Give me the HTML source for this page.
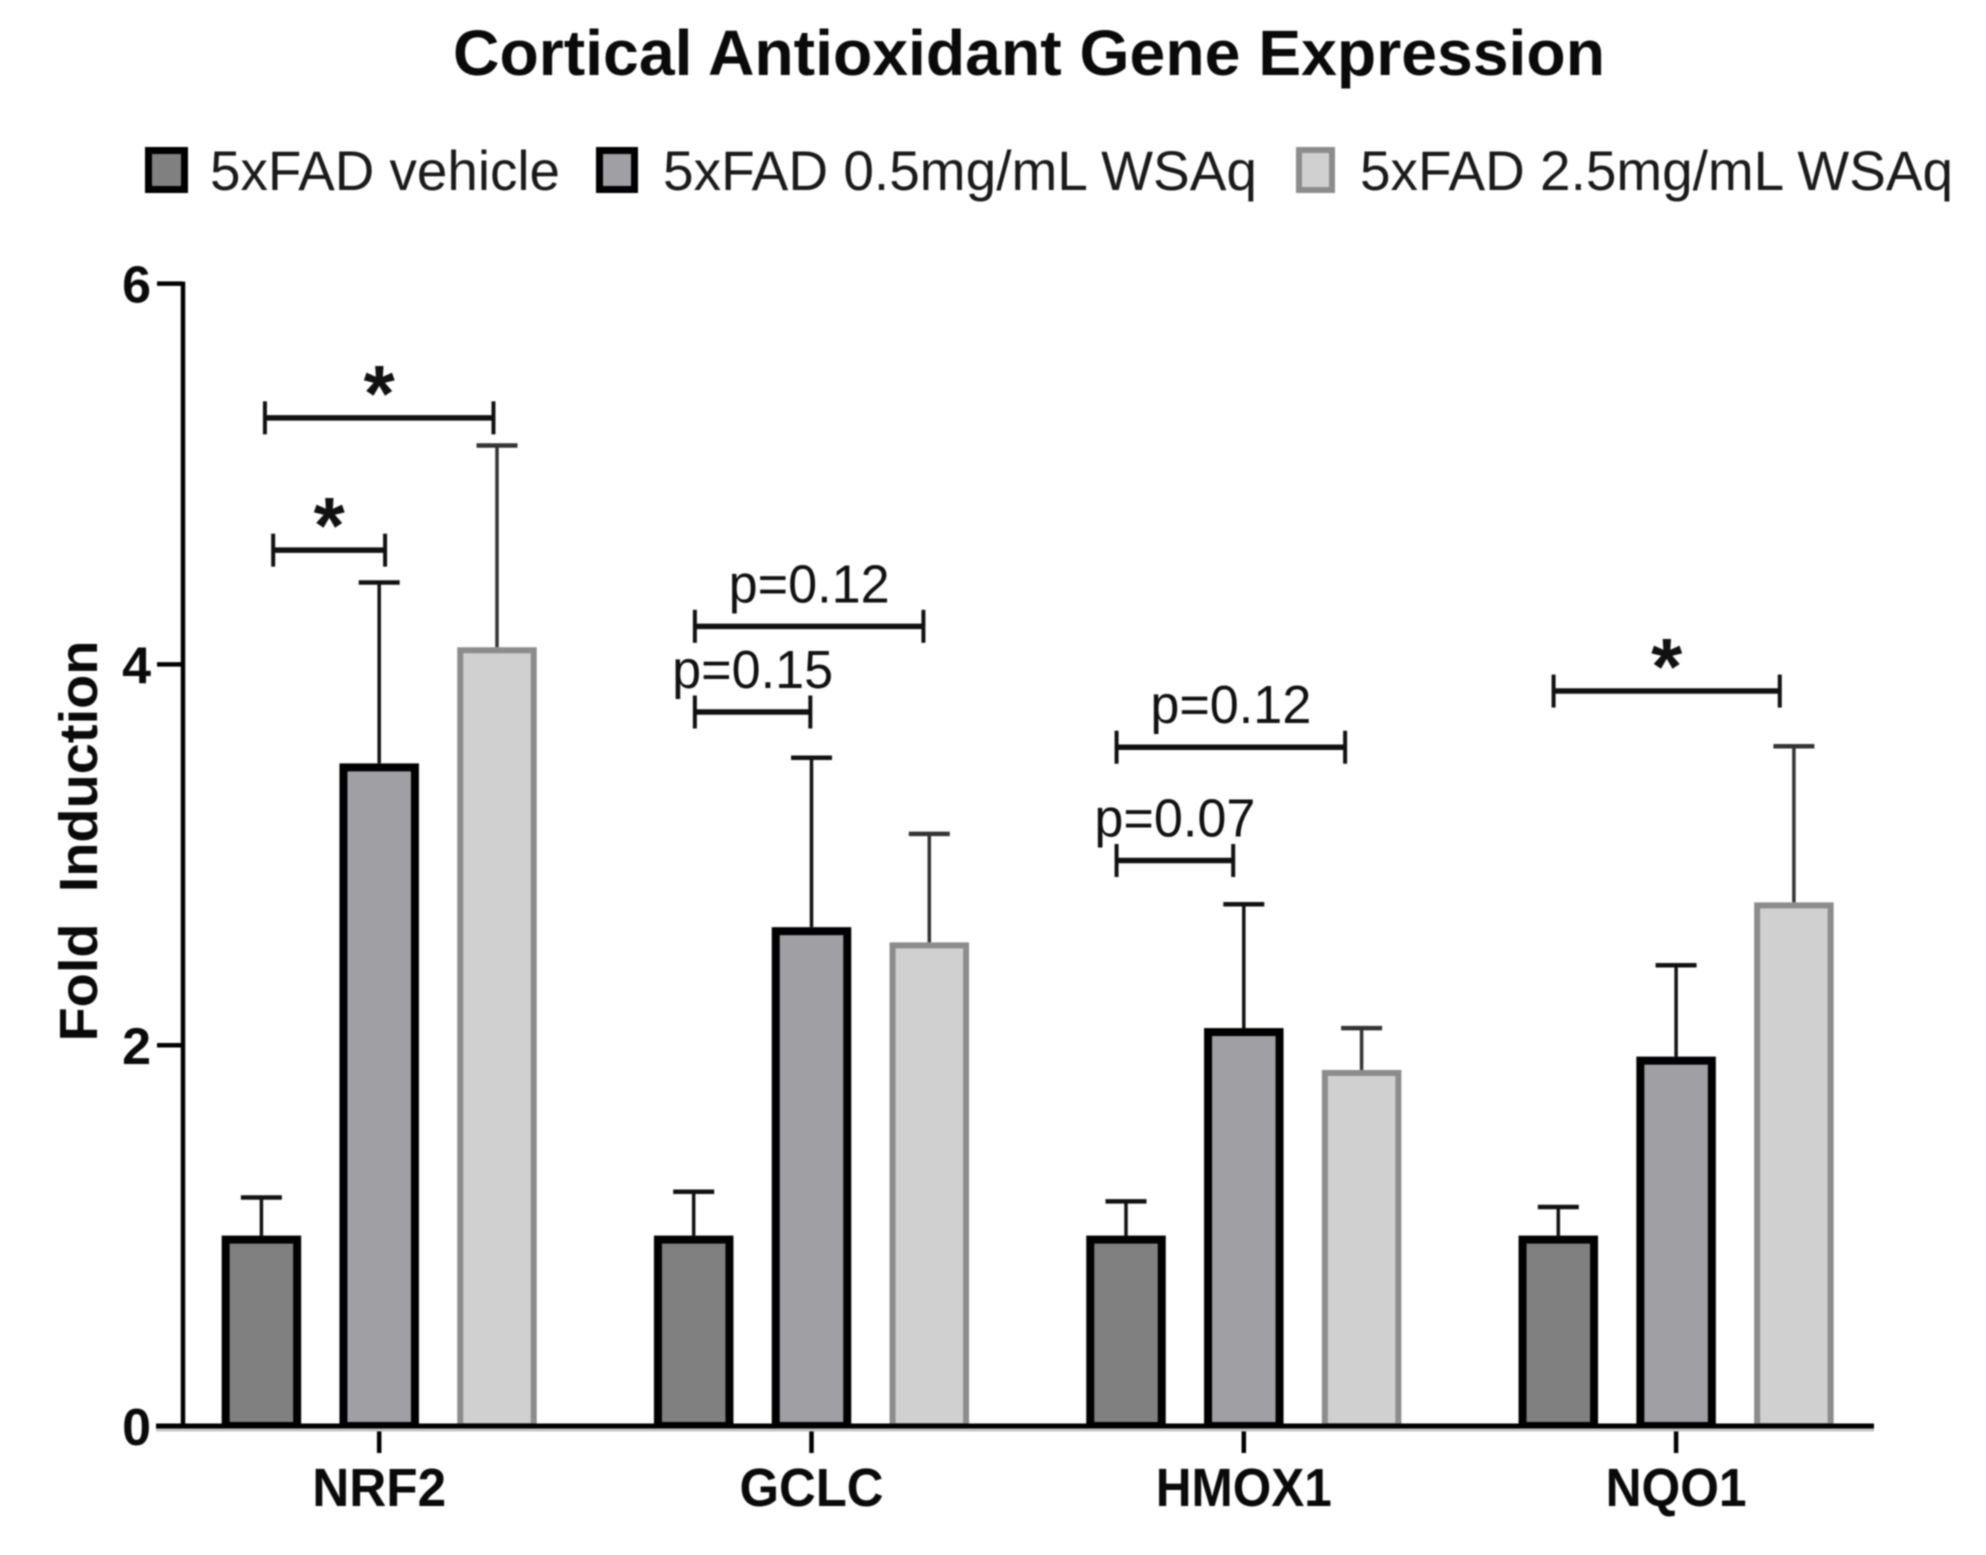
<!DOCTYPE html>
<html lang="en">
<head>
<meta charset="utf-8">
<title>Cortical Antioxidant Gene Expression</title>
<style>
html,body{margin:0;padding:0;background:#fff;}
#chart{display:block;width:1986px;height:1555px;filter:blur(0.7px);font-family:"Liberation Sans",Arial,sans-serif;}
</style>
</head>
<body>
<svg id="chart" xmlns="http://www.w3.org/2000/svg" width="1986" height="1555" viewBox="0 0 1986 1555">
  <rect x="0" y="0" width="1986" height="1555" fill="#ffffff"/>
  <text x="1029" y="75" text-anchor="middle" font-size="64" font-weight="700" fill="#0a0a0a" textLength="1152" lengthAdjust="spacingAndGlyphs">Cortical Antioxidant Gene Expression</text>
  <g>
    <g>
      <rect x="148.500" y="150.500" width="36" height="39" fill="#808080" stroke="#000" stroke-width="7"/>
      <text x="210" y="190" font-size="56" fill="#1a1a1a" textLength="350" lengthAdjust="spacingAndGlyphs">5xFAD vehicle</text>
    </g>
    <g>
      <rect x="599.500" y="150.500" width="35" height="39" fill="#a0a0a4" stroke="#000" stroke-width="7"/>
      <text x="663" y="190" font-size="56" fill="#1a1a1a" textLength="594" lengthAdjust="spacingAndGlyphs">5xFAD 0.5mg/mL WSAq</text>
    </g>
    <g>
      <rect x="1299" y="150" width="33" height="40" fill="#d0d0d0" stroke="#8c8c8c" stroke-width="6"/>
      <text x="1360" y="190" font-size="56" fill="#1a1a1a" textLength="593" lengthAdjust="spacingAndGlyphs">5xFAD 2.5mg/mL WSAq</text>
    </g>
  </g>
  <g id="bars"></g>
  <g id="annotations"></g>
  <g id="axes"></g>
  <text transform="translate(97,841) rotate(-90)" text-anchor="middle" font-size="54" font-weight="700" fill="#0a0a0a" textLength="401" lengthAdjust="spacingAndGlyphs" xml:space="preserve">Fold  Induction</text>
</svg>
<script>
const categories = ['NRF2', 'GCLC', 'HMOX1', 'NQO1'];
const seriesNames = ['vehicle', 'low-dose', 'high-dose'];
const vehicleMeans = [1.0, 1.0, 1.0, 1.0];
const lowDoseMeans = [3.48, 2.62, 2.09, 1.94];
const highDoseMeans = [4.09, 2.54, 1.87, 2.75];
const vehicleErrors = [0.20, 0.23, 0.18, 0.15];
const lowDoseErrors = [0.95, 0.89, 0.65, 0.48];
const highDoseErrors = [1.06, 0.57, 0.22, 0.82];
const yTicks = [0, 2, 4, 6];
const categoryLabelWidths = [134, 144, 176, 141];
const bracketLabels = ['*', '*', 'p=0.12', 'p=0.15', 'p=0.12', 'p=0.07', '*'];
const bracketGroups = [0, 0, 1, 1, 2, 2, 3];
const bracketStarts = [-0.97, -0.90, -0.99, -0.99, -1.08, -1.08, -1.04];
const bracketEnds = [0.97, 0.05, 0.95, -0.01, 0.86, -0.09, 0.88];
const bracketValues = [5.295, 4.60, 4.20, 3.75, 3.565, 2.97, 3.86];

const SVG_NS = 'http://www.w3.org/2000/svg';
const allMeans = [vehicleMeans, lowDoseMeans, highDoseMeans];
const allErrors = [vehicleErrors, lowDoseErrors, highDoseErrors];
const fills = ['#808080', '#a0a0a4', '#d0d0d0'];
const strokes = ['#000000', '#000000', '#8c8c8c'];
const strokeWidths = [8, 8, 6];
const errorColors = ['#111111', '#111111', '#333333'];

function yScale(value) { return 1426 - value * 190.4; }
function xScale(group, offset) { return 379.2 + group * 432.3 + offset * 117.8; }

function shape(parent, tag, attrs) {
  const el = document.createElementNS(SVG_NS, tag);
  Object.keys(attrs).forEach(function (k) { el.setAttribute(k, attrs[k]); });
  parent.appendChild(el);
  return el;
}

const barsLayer = document.getElementById('bars');
const axesLayer = document.getElementById('axes');
const notesLayer = document.getElementById('annotations');
const BAR_W = 79.5;
const CAP_W = 41;

categories.forEach(function (cat, g) {
  seriesNames.forEach(function (sName, s) {
    const cx = xScale(g, s - 1);
    const mean = allMeans[s][g];
    const top = yScale(mean);
    const errTop = yScale(mean + allErrors[s][g]);
    const sw = strokeWidths[s];

    const stem = shape(barsLayer, 'line', { x1: cx, x2: cx, y1: top, y2: errTop, stroke: errorColors[s], 'stroke-width': 3.5 });
    
    

    const cap = shape(barsLayer, 'line', { x1: cx - CAP_W / 2, x2: cx + CAP_W / 2, y1: errTop, y2: errTop, stroke: errorColors[s], 'stroke-width': 4.5 });
    
    

    const bar = shape(barsLayer, 'rect', {
      x: cx - BAR_W / 2 + sw / 2,
      y: top + sw / 2,
      width: BAR_W - sw,
      height: yScale(0) - top - sw / 2,
      fill: fills[s],
      stroke: strokes[s],
      'stroke-width': sw
    });
    
    
  });

  const tx = xScale(g, 0);
  const tick = shape(axesLayer, 'line', { x1: tx, x2: tx, y1: yScale(0), y2: 1453, stroke: '#000', 'stroke-width': 4.5 });
  
  

  const label = shape(axesLayer, 'text', { x: tx, y: 1506, 'text-anchor': 'middle', 'font-size': 54, 'font-weight': 700, fill: '#0a0a0a', textLength: categoryLabelWidths[g], lengthAdjust: 'spacingAndGlyphs' });
  label.textContent = cat;
  
  
});

const xShadow = shape(axesLayer, 'line', { x1: 156, x2: 1874, y1: yScale(0) + 4, y2: yScale(0) + 4, stroke: '#c4c4c4', 'stroke-width': 3 });



const xAxis = shape(axesLayer, 'line', { x1: 156, x2: 1874, y1: yScale(0), y2: yScale(0), stroke: '#000', 'stroke-width': 5 });



const yAxis = shape(axesLayer, 'line', { x1: 183, x2: 183, y1: yScale(6) - 2, y2: yScale(0), stroke: '#000', 'stroke-width': 4.5 });



yTicks.forEach(function (v) {
  const tick = shape(axesLayer, 'line', { x1: 157, x2: 183, y1: yScale(v), y2: yScale(v), stroke: '#000', 'stroke-width': 4.5 });
  
  

  const label = shape(axesLayer, 'text', { x: 151, y: yScale(v) + 19, 'text-anchor': 'end', 'font-size': 52, 'font-weight': 700, fill: '#0a0a0a' });
  label.textContent = String(v);
  
  
});

bracketLabels.forEach(function (text, i) {
  const x1 = xScale(bracketGroups[i], bracketStarts[i]);
  const x2 = xScale(bracketGroups[i], bracketEnds[i]);
  const y = yScale(bracketValues[i]);
  const group = shape(notesLayer, 'g', {});
  
  

  shape(group, 'line', { x1: x1, x2: x2, y1: y, y2: y, stroke: '#111', 'stroke-width': 5.5 });
  shape(group, 'line', { x1: x1, x2: x1, y1: y - 16.5, y2: y + 16.5, stroke: '#111', 'stroke-width': 4 });
  shape(group, 'line', { x1: x2, x2: x2, y1: y - 16.5, y2: y + 16.5, stroke: '#111', 'stroke-width': 4 });

  const mid = (x1 + x2) / 2;
  const isStar = text === '*';
  const label = shape(group, 'text', {
    x: mid,
    y: isStar ? y + 3 : y - 24,
    'text-anchor': 'middle',
    'font-size': isStar ? 80 : 54,
    'font-weight': isStar ? 700 : 400,
    fill: '#111'
  });
  if (!isStar) {
    label.setAttribute('textLength', 161);
    label.setAttribute('lengthAdjust', 'spacingAndGlyphs');
  }
  label.textContent = text;
  
  
});
</script>
</body>
</html>
